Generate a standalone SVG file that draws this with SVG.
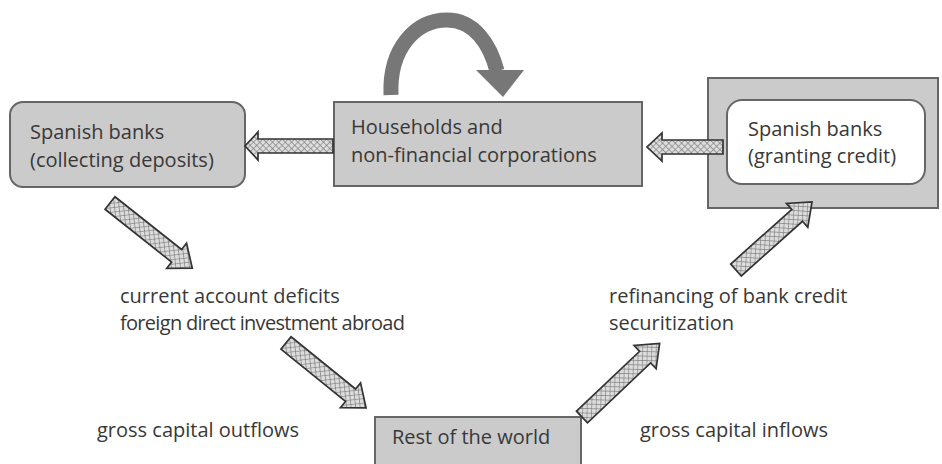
<svg xmlns="http://www.w3.org/2000/svg" width="942" height="464" viewBox="0 0 942 464">
  <style>
    .box { fill: #cbcbcb; stroke: #666666; stroke-width: 2; }
    .inner { fill: #ffffff; stroke: #666666; stroke-width: 2; }
    .lbl { font-family: "Open Sans", "Liberation Sans", sans-serif; font-size: 20px; fill: #383838; }
    .flow { fill: url(#hatch); stroke: #333333; stroke-width: 1.7; stroke-linejoin: miter; }
    .loop { fill: none; stroke: #777777; stroke-width: 15; }
  </style>
  <defs>
    <pattern id="hatch" patternUnits="userSpaceOnUse" width="4.5" height="4.5" patternTransform="rotate(45)">
      <rect width="4.5" height="4.5" fill="#dcdcdc"/>
      <path d="M0 0H4.5M0 0V4.5" stroke="#7c7c7c" stroke-width="1.2"/>
    </pattern>
  </defs>

  <!-- nodes -->
  <g id="banks-deposits">
    <rect class="box" x="10" y="102" width="235" height="85" rx="13"/>
    <text class="lbl" x="30" y="139">Spanish banks</text>
    <text class="lbl" x="30" y="167">(collecting deposits)</text>
  </g>

  <g id="households">
    <rect class="box" x="334" y="102" width="308" height="84"/>
    <text class="lbl" x="351" y="134">Households and</text>
    <text class="lbl" x="351" y="162">non-financial corporations</text>
  </g>

  <g id="banks-credit">
    <rect class="box" x="708" y="78" width="230" height="130"/>
    <rect class="inner" x="727" y="100" width="198" height="84" rx="15"/>
    <text class="lbl" x="748" y="136">Spanish banks</text>
    <text class="lbl" x="748" y="163">(granting credit)</text>
  </g>

  <g id="rest-of-world">
    <rect class="box" x="375" y="417" width="206" height="60"/>
    <text class="lbl" x="392" y="444">Rest of the world</text>
  </g>

  <g id="labels">
    <text class="lbl" x="120" y="303">current account deficits</text>
    <text class="lbl" x="120" y="330" textLength="285" lengthAdjust="spacing">foreign direct investment abroad</text>
    <text class="lbl" x="97" y="437">gross capital outflows</text>
    <text class="lbl" x="609" y="303">refinancing of bank credit</text>
    <text class="lbl" x="609" y="330">securitization</text>
    <text class="lbl" x="640" y="437">gross capital inflows</text>
  </g>

  <!-- connectors -->
  <g id="connectors">
    <!-- households lend back to themselves -->
    <path class="loop" d="M391 95 C389 48 416 20 447 20 C474 20 490 44 497 71"/>
    <polygon points="476,70 524,70 503,97" fill="#777777"/>

    <!-- households -> banks (deposits) -->
    <path class="flow" transform="translate(333 146) rotate(180)" d="M0 -7H75V-14L88 0L75 14V7H0Z"/>
    <!-- banks (credit) -> households -->
    <path class="flow" transform="translate(723 147) rotate(180)" d="M0 -7H61V-14L76 0L61 14V7H0Z"/>
    <!-- banks (deposits) -> outflows -->
    <path class="flow" transform="translate(110 203) rotate(38.4)" d="M0 -8H85V-16L105 0L85 16V8H0Z"/>
    <!-- outflows -> rest of the world -->
    <path class="flow" transform="translate(286 343) rotate(39)" d="M0 -8H83V-16L103 0L83 16V8H0Z"/>
    <!-- rest of the world -> inflows -->
    <path class="flow" transform="translate(582 417) rotate(-43.5)" d="M0 -8H87V-16L107 0L87 16V8H0Z"/>
    <!-- inflows -> banks (credit) -->
    <path class="flow" transform="translate(736 270) rotate(-41.8)" d="M0 -8H82V-16L102 0L82 16V8H0Z"/>
  </g>
</svg>
